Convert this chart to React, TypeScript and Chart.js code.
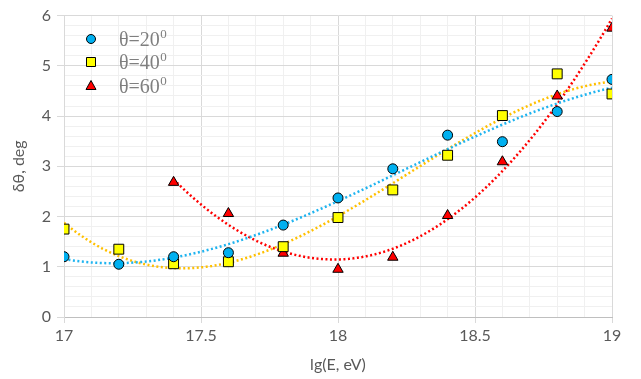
import React, { useEffect, useRef } from "react";
import { Chart, registerables } from "chart.js";

Chart.register(...registerables);

const xValues20 = [17, 17.2, 17.4, 17.6, 17.8, 18, 18.2, 18.4, 18.6, 18.8, 19];
const theta20 = [1.2, 1.05, 1.2, 1.28, 1.83, 2.37, 2.95, 3.62, 3.49, 4.09, 4.73];
const xValues40 = [17, 17.2, 17.4, 17.6, 17.8, 18, 18.2, 18.4, 18.6, 18.8, 19];
const theta40 = [1.75, 1.35, 1.06, 1.1, 1.4, 1.98, 2.53, 3.22, 4.01, 4.84, 4.44];
const xValues60 = [17.4, 17.6, 17.8, 18, 18.2, 18.4, 18.6, 18.8, 19];
const theta60 = [2.68, 2.06, 1.27, 0.95, 1.19, 2.02, 3.09, 4.4, 5.75];
const seriesLabels = ["θ=20", "θ=40", "θ=60"];
const trendOrders = [3, 3, 2];
const xTickValues = [17, 17.5, 18, 18.5, 19];
const yTickValues = [0, 1, 2, 3, 4, 5, 6];

// least-squares polynomial fit (Excel-style trendline) derived from data
function polyfit(xs: number[], ys: number[], order: number): number[] {
  const n = order + 1;
  const A: number[][] = [];
  for (let i = 0; i < n; i++) {
    A.push(new Array(n + 1).fill(0));
  }
  const x0 = 18;
  for (let k = 0; k < xs.length; k++) {
    const x = xs[k] - x0;
    for (let i = 0; i < n; i++) {
      for (let j = 0; j < n; j++) A[i][j] += Math.pow(x, i + j);
      A[i][n] += ys[k] * Math.pow(x, i);
    }
  }
  for (let i = 0; i < n; i++) {
    let p = i;
    for (let r = i + 1; r < n; r++) if (Math.abs(A[r][i]) > Math.abs(A[p][i])) p = r;
    [A[i], A[p]] = [A[p], A[i]];
    for (let r = 0; r < n; r++) {
      if (r === i) continue;
      const f = A[r][i] / A[i][i];
      for (let c = i; c <= n; c++) A[r][c] -= f * A[i][c];
    }
  }
  return A.map((row, i) => row[n] / A[i][i]);
}

function trend(xs: number[], ys: number[], order: number) {
  const c = polyfit(xs, ys, order);
  const pts: { x: number; y: number }[] = [];
  const a = xs[0];
  const b = xs[xs.length - 1];
  const steps = 100;
  for (let s = 0; s <= steps; s++) {
    const x = a + ((b - a) * s) / steps;
    const t = x - 18;
    let y = 0;
    for (let i = 0; i < c.length; i++) y += c[i] * Math.pow(t, i);
    pts.push({ x, y });
  }
  return pts;
}

const isMult = (v: number, step: number) =>
  Math.abs(v / step - Math.round(v / step)) < 1e-6;

export default function App() {
  const ref = useRef<HTMLCanvasElement | null>(null);

  useEffect(() => {
    document.body.style.margin = "0";
    const ctx = ref.current!.getContext("2d")!;
    const toXY = (xs: number[], ys: number[]) => xs.map((x, i) => ({ x, y: ys[i] }));

    const legendPlugin = {
      id: "customLegend",
      afterDraw(chart: any) {
        const c = chart.ctx;
        const items = [
          { label: seriesLabels[0], kind: "circle", fill: "#00b0f0", y: 39 },
          { label: seriesLabels[1], kind: "rect", fill: "#ffff00", y: 62 },
          { label: seriesLabels[2], kind: "tri", fill: "#ff0000", y: 86 },
        ];
        c.save();
        for (const it of items) {
          const mx = 91;
          c.beginPath();
          c.fillStyle = it.fill;
          c.strokeStyle = "#000";
          c.lineWidth = 1;
          if (it.kind === "circle") {
            c.arc(mx, it.y, 4.5, 0, Math.PI * 2);
          } else if (it.kind === "rect") {
            c.rect(mx - 4.5, it.y - 4.5, 9, 9);
          } else {
            c.moveTo(mx, it.y - 5.5);
            c.lineTo(mx + 5, it.y + 3.5);
            c.lineTo(mx - 5, it.y + 3.5);
            c.closePath();
          }
          c.fill();
          c.stroke();
          c.fillStyle = "#7f7f7f";
          c.textBaseline = "alphabetic";
          c.textAlign = "left";
          c.font = "20px 'Liberation Serif', serif";
          const base = it.y + 7;
          c.fillText(it.label, 119, base);
          const w = c.measureText(it.label).width;
          c.font = "13px 'Liberation Serif', serif";
          c.fillText("0", 119 + w + 0.5, base - 8);
        }
        c.restore();
      },
    };

    const markerBase = {
      showLine: false,
      borderColor: "#000000",
      borderWidth: 1,
      order: 0,
    };
    const trendBase = {
      pointRadius: 0,
      borderWidth: 2.5,
      borderDash: [2, 2.5],
      borderCapStyle: "butt",
      showLine: true,
      fill: false,
      tension: 0,
      order: 10,
    };

    const chart = new Chart(ctx, {
      type: "scatter",
      data: {
        datasets: [
          { ...trendBase, data: trend(xValues20, theta20, trendOrders[0]), borderColor: "#1fb4f0" } as any,
          { ...trendBase, data: trend(xValues40, theta40, trendOrders[1]), borderColor: "#ffc000" } as any,
          { ...trendBase, data: trend(xValues60, theta60, trendOrders[2]), borderColor: "#ff0000" } as any,
          { ...markerBase, label: seriesLabels[0], data: toXY(xValues20, theta20), pointStyle: "circle", pointRadius: 5, backgroundColor: "#00b0f0" } as any,
          { ...markerBase, label: seriesLabels[1], data: toXY(xValues40, theta40), pointStyle: "rect", pointRadius: 7, backgroundColor: "#ffff00" } as any,
          { ...markerBase, label: seriesLabels[2], data: toXY(xValues60, theta60), pointStyle: "triangle", pointRadius: 6, backgroundColor: "#ff0000" } as any,
        ],
      },
      options: {
        responsive: false,
        animation: false,
        devicePixelRatio: 1,
        layout: { padding: { top: 14, right: 29, left: 0, bottom: 0 } },
        plugins: {
          legend: { display: false },
          tooltip: { enabled: false },
        },
        scales: {
          x: {
            type: "linear",
            min: 17,
            max: 19,
            afterFit: (s: any) => {
              s.height = 62;
            },
            afterBuildTicks: (s: any) => {
              const t = [];
              for (let k = 0; k <= 20; k++) t.push({ value: 17 + k * 0.1 });
              s.ticks = t;
            },
            ticks: {
              autoSkip: false,
              maxRotation: 0,
              color: "#595959",
              font: { family: "Lato", size: 16 },
              padding: 3,
              callback: (v: any) => {
                const val = Number(v);
                const m = xTickValues.find((t) => Math.abs(t - val) < 1e-6);
                return m !== undefined ? String(m) : "";
              },
            },
            grid: {
              color: (c: any) => (isMult(c.tick.value, 0.5) ? "#d9d9d9" : "#f0f0f0"),
              tickColor: (c: any) => (isMult(c.tick.value, 0.5) ? "#d9d9d9" : "rgba(0,0,0,0)"),
              tickLength: 6,
              lineWidth: 1,
            },
            border: { color: "#bfbfbf" },
            title: {
              display: true,
              text: "lg(E, eV)",
              color: "#595959",
              font: { family: "Lato", size: 16 },
              padding: { top: 4, bottom: 5 },
            },
          },
          y: {
            type: "linear",
            min: 0,
            max: 6,
            afterFit: (s: any) => {
              s.width = 64;
            },
            afterBuildTicks: (s: any) => {
              const t = [];
              for (let k = 0; k <= 30; k++) t.push({ value: k * 0.2 });
              s.ticks = t;
            },
            ticks: {
              autoSkip: false,
              color: "#595959",
              font: { family: "Lato", size: 16 },
              padding: 6,
              callback: (v: any) => {
                const val = Number(v);
                const m = yTickValues.find((t) => Math.abs(t - val) < 1e-6);
                return m !== undefined ? String(m) : "";
              },
            },
            grid: {
              color: (c: any) => (isMult(c.tick.value, 1) ? "#d9d9d9" : "#f0f0f0"),
              tickColor: (c: any) => (isMult(c.tick.value, 1) ? "#d9d9d9" : "rgba(0,0,0,0)"),
              tickLength: 7,
              lineWidth: 1,
            },
            border: { color: "#d9d9d9" },
            title: {
              display: true,
              text: "δθ, deg",
              color: "#595959",
              font: { family: "Lato", size: 16 },
              padding: { top: 9, bottom: 4 },
            },
          },
        },
      },
      plugins: [legendPlugin],
    } as any);

    return () => chart.destroy();
  }, []);

  return (
    <div style={{ position: "fixed", left: 0, top: 0, width: 641, height: 379, background: "#fff" }}>
      <canvas ref={ref} width={641} height={379} />
    </div>
  );
}
